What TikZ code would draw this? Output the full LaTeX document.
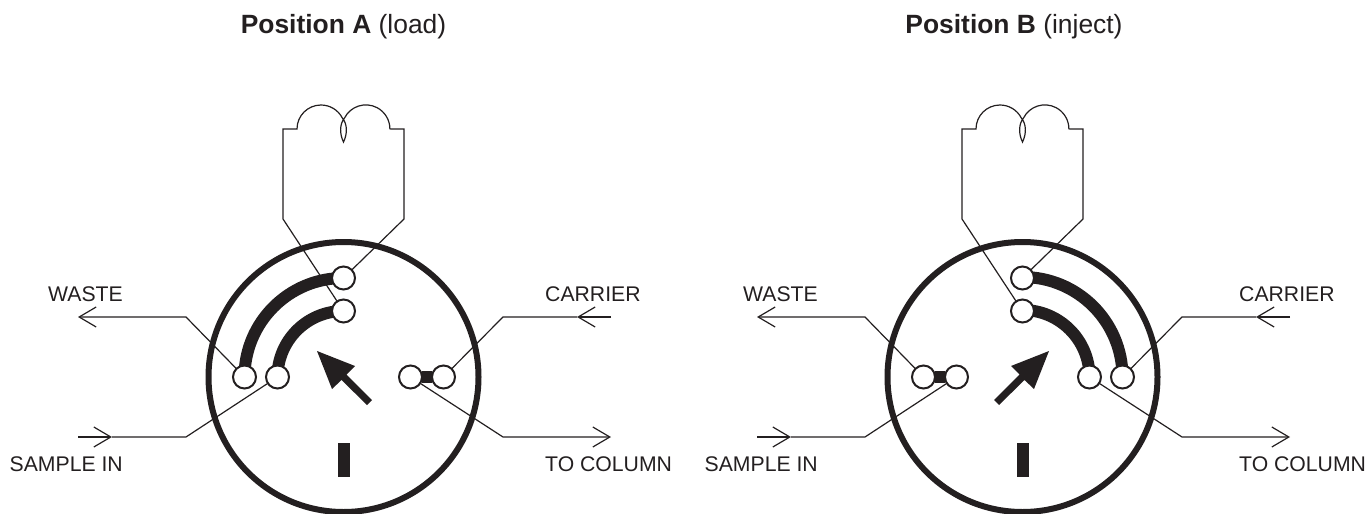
\documentclass[tikz,border=0pt]{standalone}
\usepackage{fontspec}
\setmainfont{Liberation Sans}
\usetikzlibrary{arrows.meta,backgrounds}

\definecolor{ink}{HTML}{231F20}

\tikzset{
	port/.style={circle, draw=ink, fill=white, line width=2pt, minimum size=23pt, inner sep=0pt, outer sep=0pt},
	tube/.style={draw=ink, line width=1.2pt},
	flow/.style={tube, -{Straight Barb[length=17pt, width=20pt]}},
	channel/.style={draw=ink, line width=12pt},
	valvebody/.style={draw=ink, line width=6pt},
	portlabel/.style={text=ink, inner sep=0pt, font=\fontsize{21.2}{25}\selectfont},
	headline/.style={text=ink, inner sep=0pt, anchor=base, font=\fontsize{26.4}{31}\selectfont}
}

\begin{document}
\begin{tikzpicture}[x=1pt, y=-1pt]
	
	\useasboundingbox (0,0) rectangle (1369,514);
	
	% Same parts in both positions: name, centre, label edges, arrow side
	\foreach \p/\cx/\lx/\rx/\s in {A/343.5/123/545/1, B/1022.5/818/1239/-1} {
		
		% Ports
		\node[port] (\p one) at (\cx-99,377) {};
		\node[port] (\p two) at (\cx-66,377) {};
		\node[port] (\p three) at (\cx+67,377) {};
		\node[port] (\p four) at (\cx+100,377) {};
		\node[port] (\p upper) at (\cx,278) {};
		\node[port] (\p lower) at (\cx,311) {};
		
		% Free ends and bends of the tubes
		\coordinate (\p wasteend) at (\cx-265.5,317);
		\coordinate (\p wastebend) at (\cx-157.5,317);
		\coordinate (\p samplestart) at (\cx-265.5,437);
		\coordinate (\p samplemid) at (\cx-231.5,437);
		\coordinate (\p samplebend) at (\cx-157.5,437);
		\coordinate (\p carrierstart) at (\cx+267.5,317);
		\coordinate (\p carriermid) at (\cx+233.5,317);
		\coordinate (\p carrierbend) at (\cx+159.5,317);
		\coordinate (\p columnend) at (\cx+267.5,437);
		\coordinate (\p columnbend) at (\cx+159.5,437);
		
		\begin{scope}[on background layer]
			% Valve body
			\draw[valvebody] (\cx,377) circle (135);
			
			% Sample loop
			\draw[tube] (\p lower) -- (\cx-60.5,219) -- (\cx-60.5,129) -- (\cx-46.5,129)
				arc[start angle=180, end angle=333, radius=24]
				.. controls (\cx+4,124) and (\cx+4,134) .. (\cx,142)
				.. controls (\cx-4,134) and (\cx-4,124) .. (\cx+1,118)
				arc[start angle=207, end angle=360, radius=24]
				-- (\cx+60.5,129) -- (\cx+60.5,219) -- (\p upper);
			
			% Tubes to the outside
			\draw[flow] (\p one) -- (\p wastebend) -- (\p wasteend);
			\draw[flow] (\p samplestart) -- (\p samplemid);
			\draw[tube] (\p samplemid) -- (\p samplebend) -- (\p two);
			\draw[flow] (\p carrierstart) -- (\p carriermid);
			\draw[tube] (\p carriermid) -- (\p carrierbend) -- (\p four);
			\draw[flow] (\p three) -- (\p columnbend) -- (\p columnend);
		\end{scope}
		
		% Arrow and bar in the middle of the valve
		\fill[ink] (\cx-\s*26.5,351) -- (\cx+\s*11.5,366) -- (\cx+\s*3,374.5)
			-- (\cx+\s*28.5,400) -- (\cx+\s*23.5,405) -- (\cx-\s*2,380)
			-- (\cx-\s*11.5,389) -- cycle;
		\fill[ink] (\cx-5.5,443) rectangle (\cx+6,477);
		
		% Labels
		\node[portlabel, anchor=east] (\p waste) at (\lx,294) {WASTE};
		\node[portlabel, anchor=east] (\p sample) at (\lx,464) {SAMPLE IN};
		\node[portlabel, anchor=west] (\p carrier) at (\rx,294) {CARRIER};
		\node[portlabel, anchor=west] (\p column) at (\rx,464) {TO COLUMN};
	}
	
	% Passages that differ between the two positions
	\begin{scope}[on background layer]
		\draw[channel] (Aone.center) arc[start angle=180, end angle=270, radius=99];
		\draw[channel] (Atwo.center) arc[start angle=180, end angle=270, radius=66];
		\draw[channel] (Athree) -- (Afour);
		\draw[channel] (Bfour.center) arc[start angle=0, end angle=-90, radius=100];
		\draw[channel] (Bthree.center) arc[start angle=0, end angle=-90, radius=67];
		\draw[channel] (Bone) -- (Btwo);
	\end{scope}
	
	\node[headline] (Atitle) at (343.5,33) {\textbf{Position A} (load)};
	\node[headline] (Btitle) at (1014,33) {\textbf{Position B} (inject)};
	
\end{tikzpicture}
\end{document}
